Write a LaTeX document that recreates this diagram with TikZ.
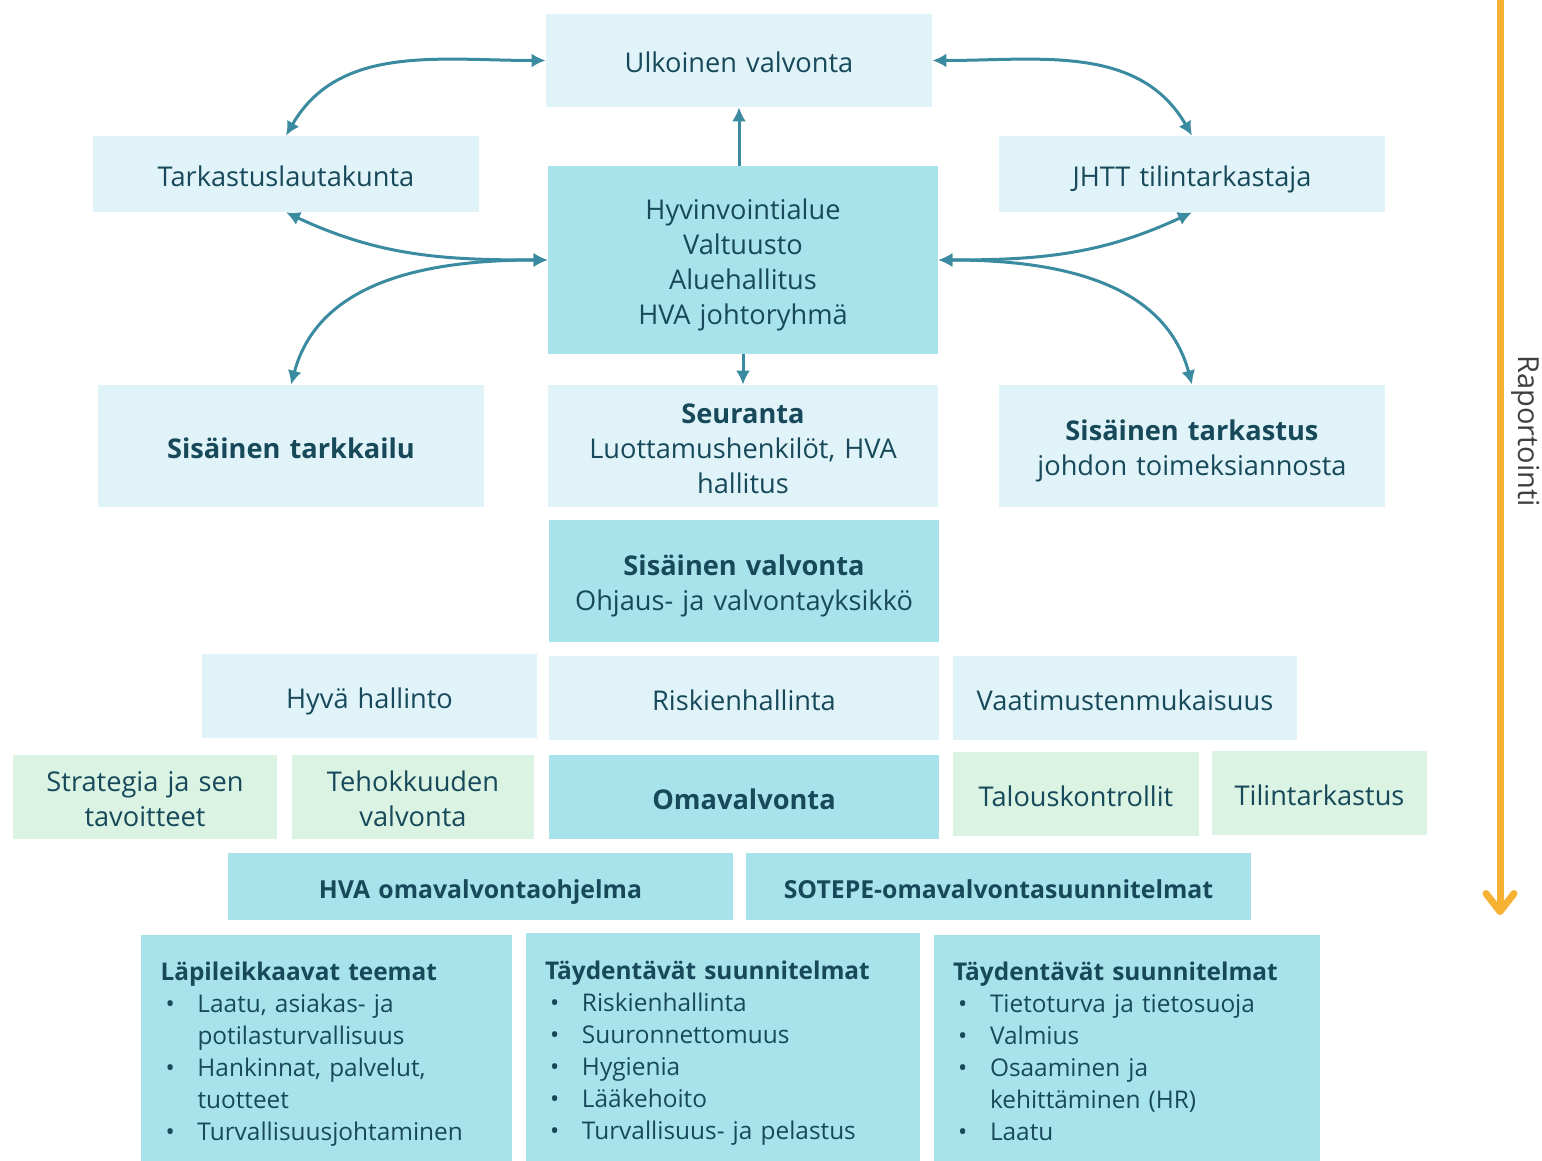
\documentclass[tikz,border=0pt]{standalone}
\usepackage{fontspec}
\setmainfont{Open Sans}
\usetikzlibrary{arrows.meta}

\definecolor{paleblue}{HTML}{DFF3F8}
\definecolor{midblue}{HTML}{A8E3EC}
\definecolor{palegreen}{HTML}{DAF3E2}
\definecolor{darkteal}{HTML}{17495A}
\definecolor{arrowteal}{HTML}{3A8AA0}
\definecolor{raporange}{HTML}{F7B234}

\newcommand{\bul}{\makebox[18.5pt][l]{\hspace{2.5pt}•}}
\newcommand{\cont}{\hspace*{18.5pt}}

\begin{document}
\begin{tikzpicture}[x=0.5pt,y=0.5pt,
    dims/.style 2 args={minimum width=#1*0.5pt, minimum height=#2*0.5pt,
      text width=#1*0.5pt-8pt},
    struts/.style 2 args={execute at begin node={\rule{0pt}{#1}},
      execute at end node={\rule[-#2]{0pt}{#2}}},
    box/.style={rectangle, inner sep=0pt, align=center, text=darkteal,
      font=\fontsize{13.6}{17.5}\selectfont, struts={16.3pt}{4pt}},
    palebox/.style={box, fill=paleblue},
    midbox/.style={box, fill=midblue},
    greenbox/.style={box, fill=palegreen},
    planbox/.style={midbox, font=\fontsize{12.4}{16}\selectfont\bfseries,
      struts={15pt}{3.8pt}},
    listbox/.style={midbox, align=left, inner xsep=9.5pt,
      font=\fontsize{12.2}{16}\selectfont, struts={15.5pt}{3.5pt}},
    conn/.style={draw=arrowteal, line width=1.5pt},
    both/.style={conn, {Latex[length=7pt,width=7pt]}-{Latex[length=7pt,width=7pt]}},
    one/.style={conn, -{Latex[length=7pt,width=7pt]}},
    report/.style={draw=raporange, line width=3.5pt,
      -{Straight Barb[round,length=9pt,width=14pt]}}]
    \useasboundingbox (0,0) rectangle (1542,-1161);

    % top level
    \node[palebox, dims={386}{93}] (ulk) at (739,-60.5) {Ulkoinen valvonta};
    \node[palebox, dims={386}{76}] (tark) at (286,-174) {Tarkastuslautakunta};
    \node[palebox, dims={386}{76}] (jhtt) at (1192,-174) {JHTT tilintarkastaja};
    \node[midbox, dims={390}{188}] (hyv) at (743,-260)
      {Hyvinvointialue\\Valtuusto\\Aluehallitus\\HVA johtoryhmä};

    \node[palebox, dims={386}{122}] (sisTarkk) at (291,-446) {\textbf{Sisäinen tarkkailu}};
    \node[palebox, dims={390}{122}] (seur) at (743,-446)
      {\textbf{Seuranta}\\Luottamushenkilöt, HVA\\hallitus};
    \node[palebox, dims={386}{122}] (sisTark) at (1192,-446)
      {\textbf{Sisäinen tarkastus}\\johdon toimeksiannosta};
    \node[midbox, dims={390}{122}] (sisVal) at (744,-581)
      {\textbf{Sisäinen valvonta}\\Ohjaus- ja valvontayksikkö};

    % areas
    \node[palebox, dims={335}{84}] (hyva) at (369.5,-696) {Hyvä hallinto};
    \node[palebox, dims={390}{84}] (riski) at (744,-698) {Riskienhallinta};
    \node[palebox, dims={344}{84}] (vaat) at (1125,-698) {Vaatimustenmukaisuus};
    \node[greenbox, dims={264}{84}] (strat) at (145,-797) {Strategia ja sen\\tavoitteet};
    \node[greenbox, dims={242}{84}] (teho) at (413,-797) {Tehokkuuden\\valvonta};
    \node[midbox, dims={390}{84}] (oma) at (744,-797) {\textbf{Omavalvonta}};
    \node[greenbox, dims={246}{84}] (talous) at (1076,-794) {Talouskontrollit};
    \node[greenbox, dims={215}{84}] (tilin) at (1319.5,-793) {Tilintarkastus};

    % plans
    \node[planbox, dims={505}{67}] (hvaOhj) at (480.5,-886.5) {HVA omavalvontaohjelma};
    \node[planbox, dims={505}{67}] (sotepe) at (998.5,-886.5) {SOTEPE-omavalvontasuunnitelmat};

    \node[listbox, dims={371}{226}, text width=166pt] (lapi) at (326.5,-1048)
      {\textbf{Läpileikkaavat teemat}\\
       \bul Laatu, asiakas- ja\\
       \cont potilasturvallisuus\\
       \bul Hankinnat, palvelut,\\
       \cont tuotteet\\
       \bul Turvallisuusjohtaminen};
    \node[listbox, dims={394}{228}, text width=178pt] (taydA) at (723,-1047)
      {\textbf{Täydentävät suunnitelmat}\\
       \bul Riskienhallinta\\
       \bul Suuronnettomuus\\
       \bul Hygienia\\
       \bul Lääkehoito\\
       \bul Turvallisuus- ja pelastus};
    \node[listbox, dims={386}{226}, text width=174pt] (taydB) at (1127,-1048)
      {\textbf{Täydentävät suunnitelmat}\\
       \bul Tietoturva ja tietosuoja\\
       \bul Valmius\\
       \bul Osaaminen ja\\
       \cont kehittäminen (HR)\\
       \bul Laatu};

    % reporting
    \coordinate (rapTop) at (1500,0);
    \coordinate (rapEnd) at (1500,-915);
    \draw[report] (rapTop) -- (rapEnd);
    \node[rotate=-90, text=black!75, font=\fontsize{14.5}{17}\selectfont] (rap) at (1526,-431) {Raportointi};

    \draw[one] (hyv.north -| ulk.south) -- (ulk.south);
    \draw[one] (hyv.south) -- (seur.north);
    \draw[both] (ulk.west) to[out=180,in=60] (tark.north);
    \draw[both] (ulk.east) to[out=0,in=120] (jhtt.north);
    \draw[both] (hyv.west) to[out=180,in=-25] (tark.south);
    \draw[both] (hyv.west) to[out=180,in=75] (sisTarkk.north);
    \draw[both] (hyv.east) to[out=0,in=-155] (jhtt.south);
    \draw[both] (hyv.east) to[out=0,in=105] (sisTark.north);
\end{tikzpicture}
\end{document}
